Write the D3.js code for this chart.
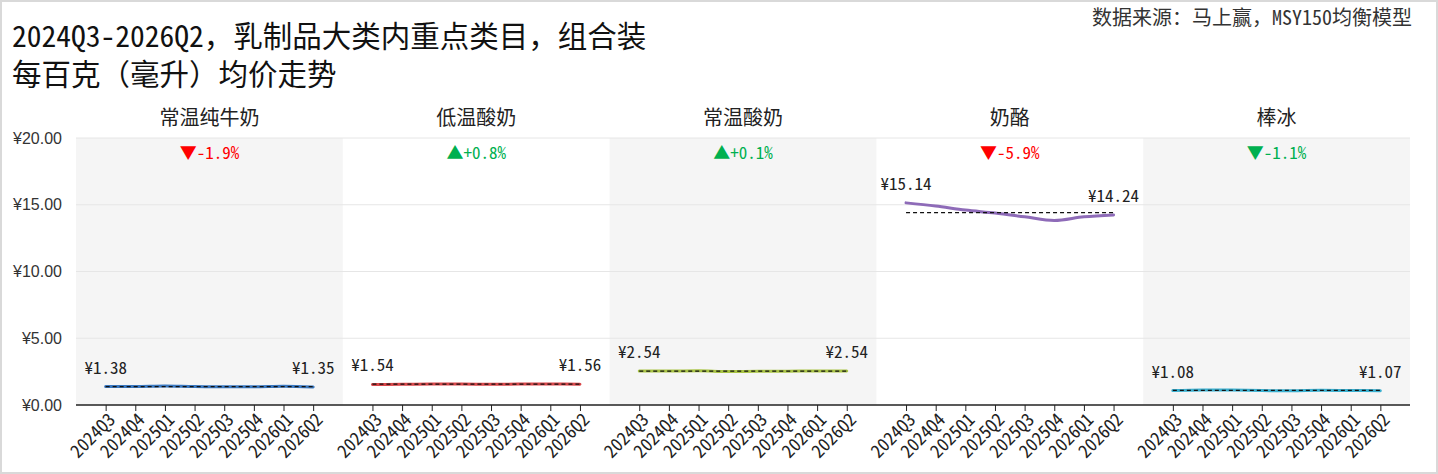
<!DOCTYPE html>
<html><head><meta charset="utf-8">
<script src="https://cdn.jsdelivr.net/npm/d3@7"></script>
<style>body{margin:0;background:#fff}svg{display:block}</style>
</head><body><svg id="c" width="1438" height="474"></svg>
<script>
const quarters = ["2024Q3","2024Q4","2025Q1","2025Q2","2025Q3","2025Q4","2026Q1","2026Q2"];
const categories = ["常温纯牛奶","低温酸奶","常温酸奶","奶酪","棒冰"];
const seriesMilk   = [1.38,1.38,1.42,1.38,1.37,1.37,1.41,1.35];
const seriesChilledYogurt = [1.54,1.55,1.57,1.57,1.55,1.57,1.57,1.56];
const seriesAmbYogurt = [2.54,2.54,2.56,2.51,2.52,2.53,2.55,2.54];
const seriesCheese = [15.14,14.90,14.60,14.38,14.10,13.82,14.10,14.24];
const seriesIceBar = [1.08,1.13,1.12,1.08,1.07,1.10,1.09,1.07];
const changes = ["-1.9%","+0.8%","+0.1%","-5.9%","-1.1%"];
const yTicks = [0,5,10,15,20];
const titleLines = ["2024Q3-2026Q2，乳制品大类内重点类目，组合装","每百克（毫升）均价走势"];
const sourceText = "数据来源：马上赢，MSY150均衡模型";

(function(){
const allSeries = [seriesMilk, seriesChilledYogurt, seriesAmbYogurt, seriesCheese, seriesIceBar];
const colors = ["#3a78c0","#d9474a","#a9c444","#8e6bb8","#3bb0d0"];
const changeColors = ["#ff0000","#00b050","#00b050","#ff0000","#00b050"];
const arrows = ["▼","▲","▲","▼","▼"];

const svg = d3.select("#c");
const FONT = "'Noto Sans Mono CJK SC','Noto Sans CJK SC', sans-serif";
svg.append("rect").attr("x",1).attr("y",1).attr("width",1436).attr("height",472)
  .attr("fill","#fff").attr("stroke","#d9d9d9").attr("stroke-width",2);

const pLeft = 76, pRight = 1410, pTop = 138, pBottom = 405;
const y = d3.scaleLinear().domain([0,20]).range([pBottom, pTop]);
const panel = d3.scaleBand().domain(categories).range([pLeft,pRight]).padding(0);
const pw = panel.bandwidth();

categories.forEach((c,i)=>{
  if(i%2===0) svg.append("rect").attr("x",panel(c)).attr("y",pTop).attr("width",pw).attr("height",pBottom-pTop).attr("fill","#f5f5f5");
});
svg.append("g").selectAll("line").data(yTicks.filter(d=>d>0)).join("line")
  .attr("x1",pLeft).attr("x2",pRight).attr("y1",d=>y(d)).attr("y2",d=>y(d))
  .attr("stroke","#e6e6e6").attr("stroke-width",1);
svg.append("g").selectAll("text").data(yTicks).join("text")
  .attr("x",62).attr("y",d=>y(d)).attr("dy","0.35em").attr("text-anchor","end")
  .attr("font-family","'Liberation Sans', Arial, sans-serif").attr("font-size",16).attr("fill","#333")
  .text(d=>"¥"+d.toFixed(2));

svg.append("g").selectAll("text").data(titleLines).join("text")
  .attr("x",12).attr("y",(d,i)=>47+i*38).attr("font-family",FONT).attr("font-size",29.5).attr("fill","#111")
  .text(d=>d);
svg.append("text").attr("x",1412).attr("y",25).attr("text-anchor","end").attr("font-family",FONT)
  .attr("font-size",20).attr("fill","#333").text(sourceText);

categories.forEach((c,i)=>{
  const x0 = panel(c);
  const x = d3.scalePoint().domain(quarters).range([x0, x0+pw]).padding(1);
  const vals = allSeries[i];
  const data = quarters.map((q,j)=>({q, v: vals[j]}));
  const g = svg.append("g");
  g.append("text").attr("x",x0+pw/2).attr("y",125).attr("text-anchor","middle").attr("font-family",FONT)
    .attr("font-size",20).attr("fill","#222").text(c);
  g.append("text").attr("x",x0+pw/2).attr("y",159).attr("text-anchor","middle").attr("font-family",FONT)
    .attr("font-size",17).attr("fill",changeColors[i]).text(arrows[i]+changes[i]);
  const line = d3.line().x(d=>x(d.q)).y(d=>y(d.v)).curve(d3.curveMonotoneX);
  g.append("path").datum(data).attr("d",line).attr("fill","none").attr("stroke",colors[i])
    .attr("stroke-width",3).attr("stroke-linejoin","round").attr("stroke-linecap","round");
  const mean = d3.mean(vals);
  g.append("line").attr("x1",x(quarters[0])).attr("x2",x(quarters[quarters.length-1]))
    .attr("y1",y(mean)).attr("y2",y(mean)).attr("stroke","#111").attr("stroke-width",1.3).attr("stroke-dasharray","4,3");
  [0, quarters.length-1].forEach(j=>{
    g.append("text").attr("x",x(quarters[j])).attr("y",y(vals[j])-13).attr("text-anchor","middle")
      .attr("font-family",FONT).attr("font-size",17).attr("fill","#222").text("¥"+vals[j].toFixed(2));
  });
  const ax = g.append("g").attr("transform",`translate(0,${pBottom})`)
    .call(d3.axisBottom(x).tickSize(6).tickSizeOuter(0));
  ax.select(".domain").remove();
  ax.selectAll(".tick line").attr("stroke","#222");
  ax.selectAll(".tick text").attr("font-family",FONT).attr("font-size",18).attr("fill","#222")
    .attr("text-anchor","end").attr("dx",0).attr("dy","0.35em")
    .attr("transform","rotate(-45)").attr("y",12).attr("x",-4);
});
svg.append("line").attr("x1",pLeft).attr("x2",pRight).attr("y1",pBottom).attr("y2",pBottom)
  .attr("stroke","#222").attr("stroke-width",1.5);
})();
</script></body></html>
